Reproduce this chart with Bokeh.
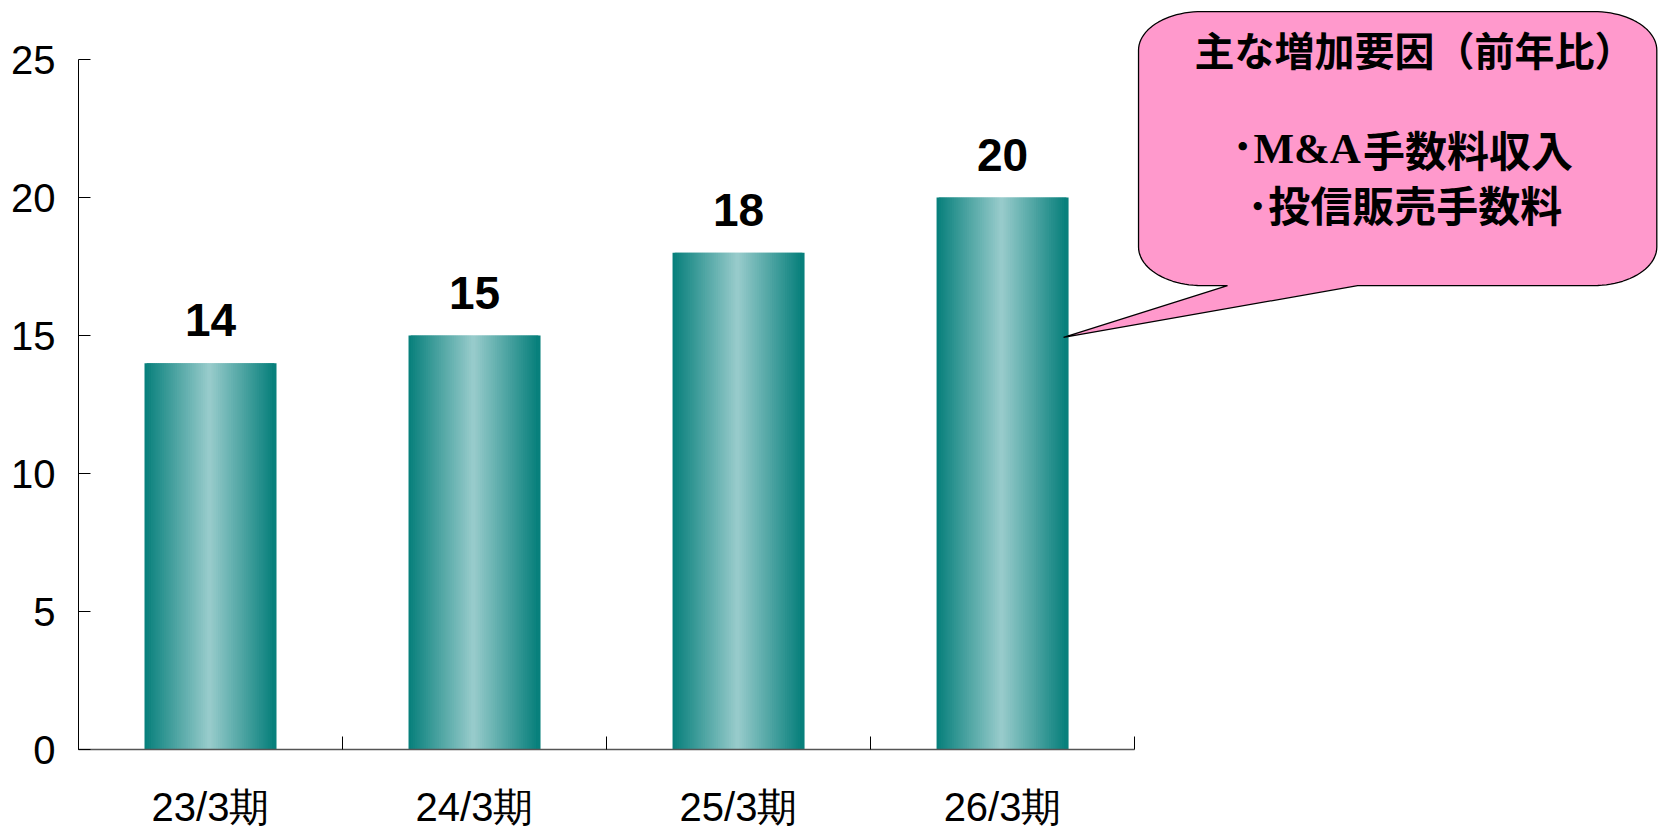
import numpy as np
from bokeh.plotting import figure
from bokeh.models import Range1d, FixedTicker, ColumnDataSource
from bokeh.core.properties import value
from bokeh.embed import file_html
from bokeh.resources import INLINE

# ---- data ----
periods = ["23/3期", "24/3期", "25/3期", "26/3期"]
amounts = [14, 15, 18, 20]
y_ticks = [0, 5, 10, 15, 20, 25]
callout_title = "主な増加要因（前年比）"
callout_item1_a = "･M&A"
callout_item1_b = "手数料収入"
callout_item2 = "･投信販売手数料"

LATIN = "Liberation Sans"
CJK = "Noto Sans CJK JP"

p = figure(width=1660, height=832, output_backend="svg", toolbar_location=None,
           x_range=Range1d(0, 5.992), y_range=Range1d(0, 27.14),
           min_border_left=78, min_border_right=0, min_border_top=0, min_border_bottom=83,
           background_fill_color="white", border_fill_color="white")
p.outline_line_color = None
p.grid.grid_line_color = None

# ---- gradient bars drawn as overlapping thin vertical strips ----
bar_w = 0.5
n_strip = 60
strip_w = 2.0 * bar_w / n_strip
dark = np.array([8, 128, 124])
light = np.array([153, 204, 204])
xs, tops, cols = [], [], []
for i, v in enumerate(amounts):
    c = i + 0.5
    for k in range(n_strip):
        off = -bar_w / 2 + strip_w / 2 + k * (bar_w - strip_w) / (n_strip - 1)
        t = abs(off) / (bar_w / 2 - strip_w / 2)
        rgb = (light + (dark - light) * min(t, 1.0)).round().astype(int)
        xs.append(c + off)
        tops.append(v)
        cols.append("#%02x%02x%02x" % tuple(rgb))
src = ColumnDataSource(dict(x=xs, top=tops, color=cols))
p.vbar(x="x", top="top", bottom=0, width=strip_w, fill_color="color", line_color=None, source=src)

# value labels
lab = ColumnDataSource(dict(x=[i + 0.5 for i in range(len(amounts))], y=amounts, t=[str(v) for v in amounts]))
p.text(x="x", y="y", text="t", source=lab, text_align="center", text_baseline="alphabetic",
       y_offset=-43, text_font=value(LATIN), text_font_style="bold", text_font_size=value("46px"),
       text_color="black")

# ---- axes ----
xa = p.xaxis[0]
xa.bounds = (0, 4)
xa.ticker = FixedTicker(ticks=[i + 0.5 for i in range(len(periods))], minor_ticks=list(range(len(periods) + 1)))
xa.major_label_overrides = {i + 0.5: s for i, s in enumerate(periods)}
xa.major_tick_line_color = None
xa.major_tick_in = 0
xa.major_tick_out = 0
xa.minor_tick_in = 13
xa.minor_tick_out = 0
xa.minor_tick_line_color = "black"
xa.axis_line_color = "#555555"
xa.axis_line_width = 1.5
xa.major_label_text_font = LATIN
xa.major_label_text_font_size = "40px"
xa.major_label_text_color = "black"
xa.major_label_standoff = 35

ya = p.yaxis[0]
ya.bounds = (0, 25)
ya.ticker = FixedTicker(ticks=y_ticks)
ya.major_tick_in = 12
ya.major_tick_out = 0
ya.minor_tick_line_color = None
ya.axis_line_color = "black"
ya.major_tick_line_color = "black"
ya.major_label_text_font = LATIN
ya.major_label_text_font_size = "40px"
ya.major_label_text_color = "black"
ya.major_label_standoff = 23

# ---- callout balloon ----
L, R, T, B = 4.015, 5.978, 26.74, 16.81
rx, ry = 0.24, 1.40
tail_l, tail_r = 4.352, 4.845
tip_x, tip_y = 3.731, 14.93

def arc(cx, cy, a0, a1, n=24):
    a = np.radians(np.linspace(a0, a1, n))
    return list(cx + rx * np.cos(a)), list(cy + ry * np.sin(a))

px, py = [], []
for seg in [arc(R - rx, T - ry, 90, 0), arc(R - rx, B + ry, 0, -90)]:
    px += seg[0]; py += seg[1]
px += [tail_r, tip_x, tail_l]; py += [B, tip_y, B]
for seg in [arc(L + rx, B + ry, -90, -180), arc(L + rx, T - ry, 180, 90)]:
    px += seg[0]; py += seg[1]
p.patch(px, py, fill_color="#FF99CC", line_color="black", line_width=1.3)

p.text(x=[5.06], y=[25.40], text=[callout_title], text_align="center", text_baseline="middle",
       text_font=value(CJK), text_font_style="bold", text_font_size=value("40px"), text_color="black")
p.text(x=[4.857], y=[21.78], text=[callout_item1_a], text_align="right", text_baseline="middle",
       text_font=value("'Liberation Serif', 'Noto Sans CJK JP'"), text_font_style="bold",
       text_font_size=value("43px"), text_color="black")
p.text(x=[4.865], y=[21.78], text=[callout_item1_b], text_align="left", text_baseline="middle",
       text_font=value(CJK), text_font_style="bold", text_font_size=value("42px"), text_color="black")
p.text(x=[5.023], y=[19.78], text=[callout_item2], text_align="center", text_baseline="middle",
       text_font=value(CJK), text_font_style="bold", text_font_size=value("42px"), text_color="black")

open("out.html", "w").write(file_html(p, INLINE))
